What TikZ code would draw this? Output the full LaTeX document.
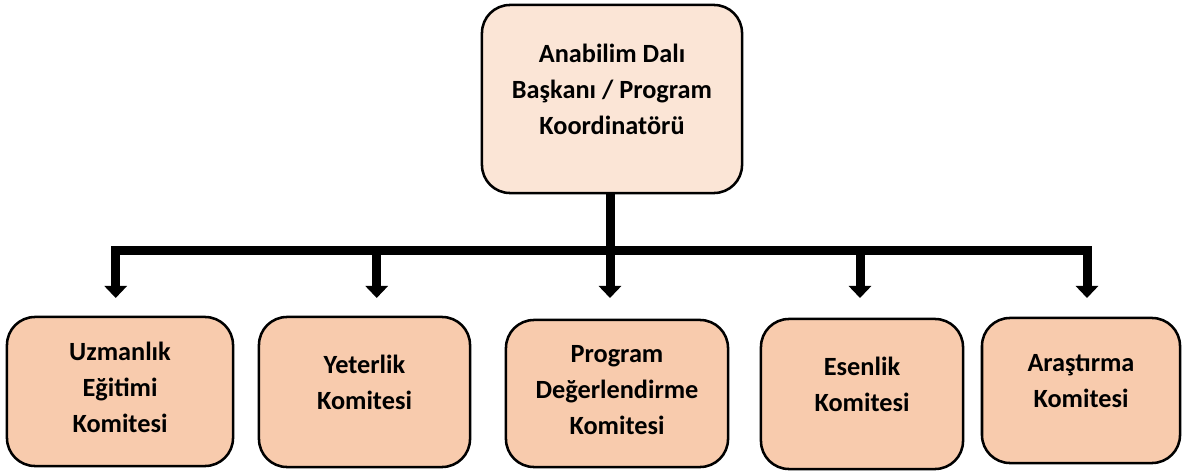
\documentclass[tikz,border=0pt]{standalone}
\usepackage{fontspec}
\setmainfont{Carlito}
\usepackage{xcolor}
\usetikzlibrary{arrows.meta,calc}
\definecolor{headfill}{HTML}{FBE5D6}
\definecolor{boxfill}{HTML}{F8CBAD}
\tikzset{
    box style/.style={draw=black,line width=1.8pt,rounded corners=0.7cm,
        inner sep=0pt,outer sep=0pt,font=\bfseries\fontsize{18.7}{25.6}\selectfont},
    head box/.style={box style,fill=headfill,minimum width=6.5cm,minimum height=4.7cm},
    committee box/.style={box style,fill=boxfill},
    conn/.style={line width=6.4pt,line join=miter},
    arr/.style={conn,-{Triangle[width=0.55cm,length=0.3cm]}},
    darr/.style={conn,{Triangle[width=0.55cm,length=0.3cm]}-{Triangle[width=0.55cm,length=0.3cm]}},
}
% lines of a box, lifted a little above the middle
\newcommand{\lifted}[2]{\raisebox{#1}[\height][\depth]{\begin{tabular}{@{}c@{}}#2\end{tabular}}}

\begin{document}
\begin{tikzpicture}[x=0.025cm,y=-0.025cm]
        \useasboundingbox (0,0) rectangle (1184,472);

        % head of the department
        \node[head box] (head) at (612,99) {\lifted{0.2cm}{Anabilim Dalı\\Başkanı / Program\\Koordinatörü}};

        % committees
        \node[committee box,minimum width=5.65cm,minimum height=3.725cm] (uzm) at (120,391.5)
            {\lifted{0.05cm}{Uzmanlık\\Eğitimi\\Komitesi}};
        \node[committee box,minimum width=5.275cm,minimum height=3.75cm] (yet) at (364.5,392)
            {\lifted{0.2cm}{Yeterlik\\Komitesi}};
        \node[committee box,minimum width=5.55cm,minimum height=3.675cm] (prg) at (617,393.5)
            {\lifted{0.05cm}{Program\\Değerlendirme\\Komitesi}};
        \node[committee box,minimum width=5.05cm,minimum height=3.75cm] (esn) at (862,394)
            {\lifted{0.2cm}{Esenlik\\Komitesi}};
        \node[committee box,minimum width=4.95cm,minimum height=3.625cm] (ars) at (1081,390.5)
            {\lifted{0.2cm}{Araştırma\\Komitesi}};

        % junctions on the bar and arrow ends
        \foreach \name/\xx in {1/115.7,2/376.7,3/610,4/860,5/1087} {
            \coordinate (j\name) at (\xx,250.4);
            \coordinate (a\name) at (\xx,298);
        }

        % connectors
        \draw[arr] (head.south -| j3) -- (a3);
        \draw[darr] (a1) -- (j1) -- (j5) -- (a5);
        \draw[arr] (j2) -- (a2);
        \draw[arr] (j4) -- (a4);
    \end{tikzpicture}
\end{document}
